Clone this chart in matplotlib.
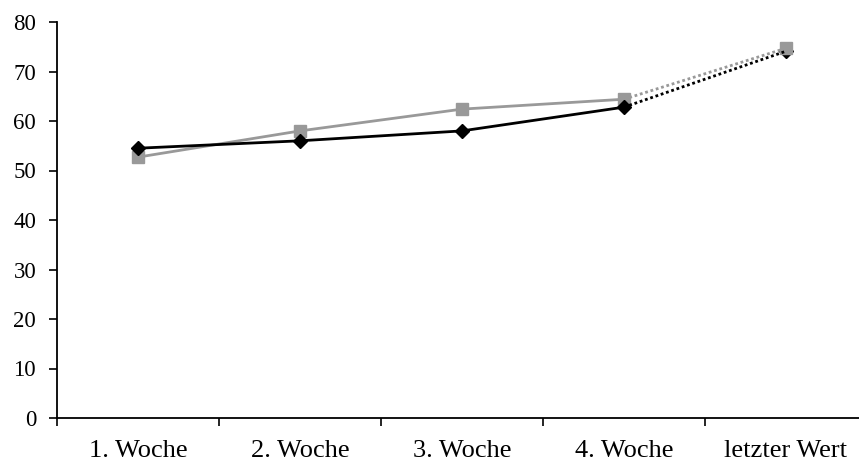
import numpy as np
import matplotlib
matplotlib.use("Agg")
from matplotlib import pyplot as plt

categories = ["1. Woche", "2. Woche", "3. Woche", "4. Woche", "letzter Wert"]
series_black = [54.5, 56.0, 58.0, 62.8, 74.1]
series_gray = [52.7, 58.0, 62.4, 64.4, 74.7]

plt.rcParams['font.family'] = ['Liberation Serif', 'DejaVu Serif']

fig = plt.figure(figsize=(8.59, 4.72), dpi=100)
W, H = 859, 472
# axes spans px 57..867 horizontally (cropped right), 22..418 vertically
ax = fig.add_axes([57 / W, (H - 418) / H, (867 - 57) / W, (418 - 22) / H])

x = np.arange(len(categories))
gray = "#999999"

# solid parts (weeks) and dotted connection to last value
ax.plot(x[:4], series_gray[:4], color=gray, lw=2, marker="s", ms=8, zorder=2)
ax.plot(x[3:], series_gray[3:], color=gray, lw=2, ls=(0, (1, 1)), zorder=2)
ax.plot(x[4], series_gray[4], color=gray, marker="s", ms=8, ls="none", zorder=2)

ax.plot(x[:4], series_black[:4], color="black", lw=2, marker="D", ms=7, zorder=3)
ax.plot(x[3:], series_black[3:], color="black", lw=2, ls=(0, (1, 1)), zorder=3)
ax.plot(x[4], series_black[4], color="black", marker="D", ms=7, ls="none", zorder=1)

ax.set_xlim(-0.5, 4.5)
ax.set_ylim(0, 80)
ax.set_yticks(range(0, 81, 10))
ax.set_xticks(np.arange(-0.5, 4.6, 1))
ax.set_xticklabels([])
ax.set_xticks(x, minor=True)
ax.set_xticklabels(categories, minor=True, fontsize=19)
ax.tick_params(axis="x", which="minor", length=0, pad=16)
ax.tick_params(axis="x", which="major", length=6, width=1.2, direction="out")
ax.tick_params(axis="y", length=6, width=1.2, direction="out", labelsize=16.5, pad=9)

for s in ["top", "right"]:
    ax.spines[s].set_visible(False)
for s in ["left", "bottom"]:
    ax.spines[s].set_linewidth(1.3)

fig.savefig("out.png", dpi=100)
